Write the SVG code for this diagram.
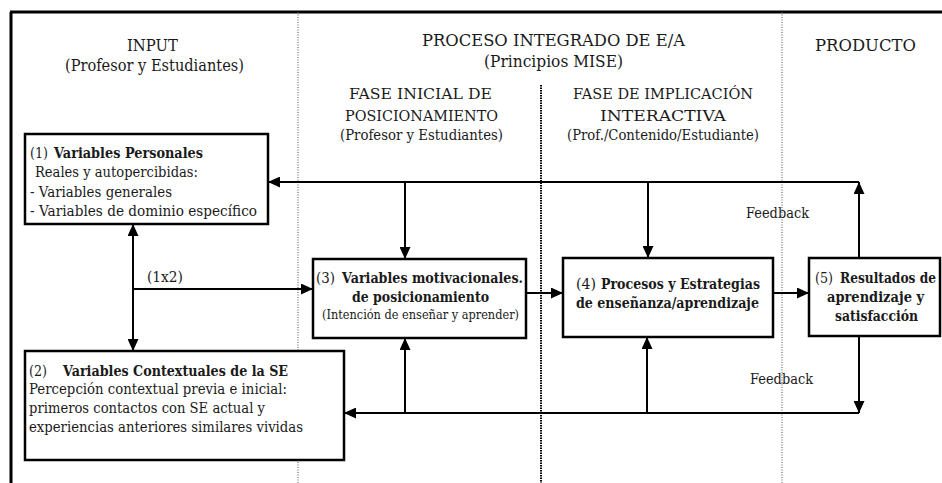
<svg xmlns="http://www.w3.org/2000/svg" width="942" height="483" viewBox="0 0 942 483" font-family="'DejaVu Serif', serif">
<style>
text{fill:#1a1a1a}
.h{font-size:17px;text-anchor:middle}
.p{font-size:15px;text-anchor:middle}
.t{font-size:14.5px}
.c{text-anchor:middle}
.b{font-weight:bold}
.s{font-size:12.5px}
.box{fill:#fff;stroke:#000;stroke-width:2.5}
.ln{fill:none;stroke:#000;stroke-width:2}
</style>
<defs>
<marker id="ah" viewBox="0 0 12 11" refX="12" refY="5.5" markerWidth="12" markerHeight="11" markerUnits="userSpaceOnUse" orient="auto">
<path d="M0,0L12,5.5L0,11z" fill="#000"/>
</marker>
</defs>
<rect width="942" height="483" fill="#fff"/>
<g id="frame">
<path d="M10,12H942" stroke="#000" stroke-width="3"/>
<path d="M11,12V483" stroke="#000" stroke-width="3"/>
<path d="M298,12V483" stroke="#555" stroke-width="1" stroke-dasharray="1,1.5"/>
<path d="M541,85V483" stroke="#000" stroke-width="2" stroke-dasharray="1.5,1"/>
<path d="M782,12V483" stroke="#555" stroke-width="1" stroke-dasharray="1,1.5"/>
</g>
<g id="headers">
<text class="h" x="152.5" y="51" textLength="51" lengthAdjust="spacingAndGlyphs">INPUT</text>
<text class="h" x="154.5" y="71" textLength="179" lengthAdjust="spacingAndGlyphs">(Profesor y Estudiantes)</text>
<text class="h" x="553.5" y="46" textLength="263" lengthAdjust="spacingAndGlyphs">PROCESO INTEGRADO DE E/A</text>
<text class="h" x="553.5" y="67" textLength="139" lengthAdjust="spacingAndGlyphs">(Principios MISE)</text>
<text class="h" x="865.5" y="51" textLength="101" lengthAdjust="spacingAndGlyphs">PRODUCTO</text>
<text class="p" x="420.5" y="99" textLength="143" lengthAdjust="spacingAndGlyphs">FASE INICIAL DE</text>
<text class="p" x="421.5" y="121" textLength="153" lengthAdjust="spacingAndGlyphs">POSICIONAMIENTO</text>
<text class="p" x="421.5" y="140" textLength="163" lengthAdjust="spacingAndGlyphs">(Profesor y Estudiantes)</text>
<text class="p" x="663" y="99" textLength="180" lengthAdjust="spacingAndGlyphs">FASE DE IMPLICACIÓN</text>
<text class="p" x="663" y="121" textLength="126" lengthAdjust="spacingAndGlyphs">INTERACTIVA</text>
<text class="p" x="663" y="140" textLength="192" lengthAdjust="spacingAndGlyphs">(Prof./Contenido/Estudiante)</text>
</g>
<g id="connectors">
<path class="ln" d="M859,182H268" marker-end="url(#ah)"/>
<path class="ln" d="M859,258V182" marker-end="url(#ah)"/>
<path class="ln" d="M405,182V259" marker-end="url(#ah)"/>
<path class="ln" d="M648,182V258" marker-end="url(#ah)"/>
<path class="ln" d="M133,288V224" marker-end="url(#ah)"/>
<path class="ln" d="M133,288V351" marker-end="url(#ah)"/>
<path class="ln" d="M133,289H313" marker-end="url(#ah)"/>
<path class="ln" d="M526,293H563" marker-end="url(#ah)"/>
<path class="ln" d="M773,293H809" marker-end="url(#ah)"/>
<path class="ln" d="M859,336V413" marker-end="url(#ah)"/>
<path class="ln" d="M859,413H344" marker-end="url(#ah)"/>
<path class="ln" d="M405,413V338" marker-end="url(#ah)"/>
<path class="ln" d="M647,413V337" marker-end="url(#ah)"/>
<text class="t" x="147" y="282" textLength="36" lengthAdjust="spacingAndGlyphs">(1x2)</text>
<text class="t" x="746" y="218" textLength="63" lengthAdjust="spacingAndGlyphs">Feedback</text>
<text class="t" x="750" y="384" textLength="63" lengthAdjust="spacingAndGlyphs">Feedback</text>
</g>
<g id="n1">
<rect class="box" x="25" y="134" width="243" height="90"/>
<text class="t" x="30" y="158" textLength="18" lengthAdjust="spacingAndGlyphs">(1)</text>
<text class="t b" x="54" y="158" textLength="149" lengthAdjust="spacingAndGlyphs">Variables Personales</text>
<text class="t" x="35" y="177" textLength="163" lengthAdjust="spacingAndGlyphs">Reales y autopercibidas:</text>
<text class="t" x="30" y="197" textLength="142" lengthAdjust="spacingAndGlyphs">- Variables generales</text>
<text class="t" x="30" y="216" textLength="227" lengthAdjust="spacingAndGlyphs">- Variables de dominio específico</text>
</g>
<g id="n2">
<rect class="box" x="25" y="351" width="319" height="109"/>
<text class="t" x="29" y="376" textLength="18" lengthAdjust="spacingAndGlyphs">(2)</text>
<text class="t b" x="63" y="376" textLength="225" lengthAdjust="spacingAndGlyphs">Variables Contextuales de la SE</text>
<text class="t" x="29" y="394" textLength="258" lengthAdjust="spacingAndGlyphs">Percepción contextual previa e inicial:</text>
<text class="t" x="29" y="413" textLength="236" lengthAdjust="spacingAndGlyphs">primeros contactos con SE actual y</text>
<text class="t" x="29" y="432" textLength="274" lengthAdjust="spacingAndGlyphs">experiencias anteriores similares vividas</text>
</g>
<g id="n3">
<rect class="box" x="313" y="259" width="213" height="79"/>
<text class="t" x="316" y="283" textLength="19" lengthAdjust="spacingAndGlyphs">(3)</text>
<text class="t b" x="342" y="283" textLength="181" lengthAdjust="spacingAndGlyphs">Variables motivacionales.</text>
<text class="t c b" x="420.5" y="302" textLength="137" lengthAdjust="spacingAndGlyphs">de posicionamiento</text>
<text class="s c" x="420.5" y="319" textLength="197" lengthAdjust="spacingAndGlyphs">(Intención de enseñar y aprender)</text>
</g>
<g id="n4">
<rect class="box" x="563" y="258" width="210" height="79"/>
<text class="t" x="576" y="289" textLength="20" lengthAdjust="spacingAndGlyphs">(4)</text>
<text class="t b" x="601" y="289" textLength="159" lengthAdjust="spacingAndGlyphs">Procesos y Estrategias</text>
<text class="t c b" x="667.5" y="308" textLength="183" lengthAdjust="spacingAndGlyphs">de enseñanza/aprendizaje</text>
</g>
<g id="n5">
<rect class="box" x="809" y="258" width="131" height="78"/>
<text class="t" x="815" y="283" textLength="18" lengthAdjust="spacingAndGlyphs">(5)</text>
<text class="t b" x="840" y="283" textLength="96" lengthAdjust="spacingAndGlyphs">Resultados de</text>
<text class="t c b" x="875.5" y="302" textLength="97" lengthAdjust="spacingAndGlyphs">aprendizaje y</text>
<text class="t c b" x="876.5" y="321" textLength="83" lengthAdjust="spacingAndGlyphs">satisfacción</text>
</g>
</svg>
